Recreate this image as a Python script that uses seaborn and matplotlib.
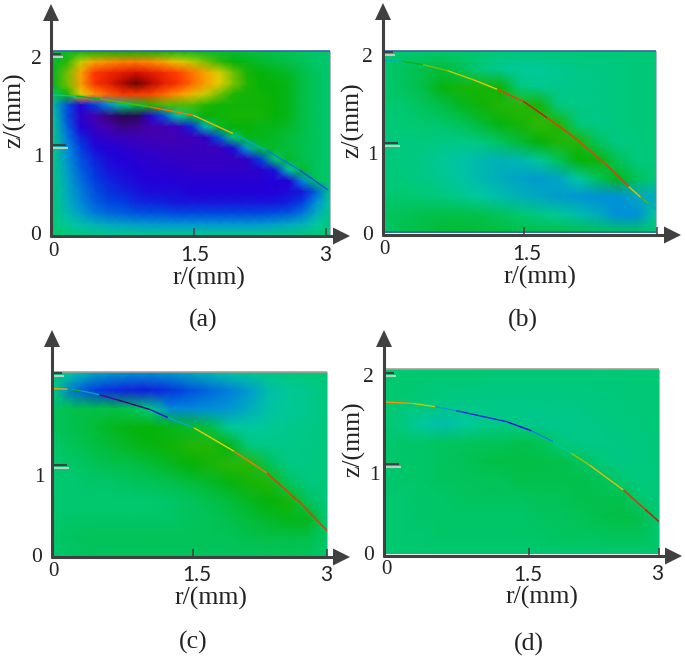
import numpy as np
import matplotlib
matplotlib.use('Agg')
import matplotlib.pyplot as plt
from matplotlib.collections import LineCollection
from matplotlib.colors import LinearSegmentedColormap
from matplotlib.patches import Polygon
import seaborn as sns

W, H = 685, 659
SERIF = 'Liberation Serif'
SANS = 'Lato'
AXIS_CLR = '#404040'

# field values, rows run from the top of the plot down to z = 0
field_a = [
    [.03, .08, .10, .12, .12, .12, .12, .12, .11, .10, .09, .08, .07, .07, .06, .05, .04, .03, .02, .01, 0],
    [.08, .16, .36, .50, .55, .58, .58, .56, .50, .42, .34, .25, .17, .12, .10, .08, .06, .05, .03, .01, 0],
    [.09, .24, .50, .70, .76, .80, .85, .80, .74, .68, .60, .50, .38, .24, .14, .12, .10, .08, .05, .02, 0],
    [.10, .24, .52, .72, .80, .90, .98, .90, .80, .72, .62, .52, .40, .26, .15, .12, .12, .10, .05, .02, 0],
    [.02, .14, .40, .55, .64, .70, .70, .68, .62, .55, .46, .36, .24, .15, .13, .13, .12, .10, .05, .02, 0],
    [-.15, -.45, -.62, -.50, -.30, -.05, .05, .15, .20, .20, .20, .15, .13, .13, .13, .13, .12, .10, .05, .02, 0],
    [-.10, -.45, -.68, -.78, -.88, -.95, -.95, -.65, -.45, -.10, .05, .12, .13, .14, .14, .14, .12, .10, .05, .02, 0],
    [-.08, -.40, -.62, -.72, -.78, -.86, -.84, -.78, -.76, -.72, -.55, -.15, .08, .12, .12, .10, .10, .08, .05, .02, 0],
    [-.06, -.35, -.55, -.65, -.70, -.72, -.74, -.76, -.76, -.76, -.74, -.68, -.45, 0, .10, .10, .08, .06, .04, .02, 0],
    [-.05, -.30, -.50, -.60, -.62, -.65, -.68, -.70, -.72, -.72, -.72, -.72, -.72, -.60, -.25, .07, .08, .06, .04, .02, 0],
    [-.05, -.28, -.45, -.55, -.60, -.62, -.65, -.66, -.68, -.70, -.70, -.70, -.70, -.70, -.68, -.50, 0, .08, .04, .02, 0],
    [-.05, -.25, -.42, -.52, -.58, -.60, -.62, -.64, -.66, -.66, -.68, -.68, -.68, -.68, -.68, -.66, -.58, -.12, .08, .02, 0],
    [-.04, -.22, -.38, -.50, -.55, -.58, -.60, -.62, -.62, -.64, -.64, -.64, -.64, -.64, -.64, -.64, -.62, -.62, -.32, .03, 0],
    [-.03, -.20, -.35, -.46, -.52, -.55, -.58, -.60, -.60, -.60, -.62, -.62, -.62, -.62, -.62, -.62, -.62, -.60, -.58, -.42, -.05],
    [-.03, -.18, -.32, -.42, -.48, -.50, -.54, -.55, -.56, -.58, -.58, -.58, -.58, -.58, -.58, -.58, -.58, -.56, -.50, -.30, -.10],
    [-.02, -.15, -.25, -.35, -.40, -.42, -.45, -.46, -.46, -.48, -.48, -.48, -.48, -.48, -.48, -.48, -.46, -.44, -.36, -.20, -.05],
    [-.02, -.08, -.14, -.18, -.22, -.24, -.26, -.27, -.28, -.28, -.28, -.28, -.28, -.28, -.28, -.27, -.25, -.22, -.18, -.10, -.02],
    [0, -.02, -.04, -.05, -.06, -.06, -.06, -.06, -.06, -.06, -.06, -.06, -.06, -.06, -.06, -.06, -.05, -.04, -.03, -.02, 0],
]
field_b = [
    [0, 0, 0, 0, 0, 0, -.01, -.01, -.01, -.01, -.01, -.01, -.01, -.01, -.01],
    [0, .02, .04, .06, .03, -.03, -.07, -.09, -.09, -.07, -.05, -.04, -.03, -.02, -.01],
    [0, .02, .05, .11, .14, .14, .13, -.02, -.06, -.06, -.05, -.04, -.03, -.02, -.01],
    [0, 0, .02, .05, .09, .13, .15, .16, .14, -.03, -.05, -.04, -.03, -.02, -.01],
    [-.01, -.01, 0, .01, .03, .07, .11, .14, .17, .15, -.02, -.05, -.03, -.02, -.01],
    [-.02, -.03, -.03, -.04, -.05, -.03, .02, .07, .12, .15, .15, .02, -.04, -.03, -.01],
    [-.02, -.03, -.05, -.08, -.12, -.16, -.18, -.16, -.08, .03, .12, .13, .03, -.03, -.02],
    [-.02, -.02, -.04, -.07, -.11, -.16, -.20, -.24, -.26, -.22, -.10, .03, .10, .03, -.02],
    [0, 0, -.01, -.03, -.06, -.10, -.14, -.18, -.22, -.26, -.28, -.30, -.30, -.22, -.20],
    [.02, .03, .04, .05, .05, .04, .02, 0, -.04, -.08, -.14, -.20, -.30, -.30, -.08],
    [0, .04, .05, .07, .07, .06, .06, .05, .05, .05, .04, .03, .02, .02, 0],
]
field_c = [
    [-.02, -.10, -.20, -.25, -.28, -.28, -.25, -.20, -.15, -.10, -.06, -.04, -.02, -.01, -.01],
    [-.05, -.38, -.50, -.54, -.56, -.56, -.52, -.46, -.40, -.34, -.26, -.14, -.08, -.06, -.03],
    [.02, .04, .05, .05, .03, -.05, -.32, -.32, -.30, -.28, -.20, -.12, -.08, -.06, -.03],
    [.02, .04, .06, .09, .11, .12, .10, .08, .05, -.08, -.10, -.08, -.06, -.05, -.03],
    [.01, .03, .05, .07, .09, .11, .13, .15, .15, .10, -.03, -.05, -.05, -.04, -.02],
    [0, .01, .03, .04, .05, .07, .09, .12, .14, .16, .16, .03, -.04, -.04, -.02],
    [0, 0, .01, .01, .02, .03, .04, .06, .08, .11, .14, .15, .02, -.03, -.02],
    [0, 0, 0, 0, 0, 0, .01, .02, .04, .06, .09, .12, .14, .02, -.03],
    [0, .01, .01, .01, .01, .01, .01, .02, .03, .04, .06, .08, .10, .10, -.01],
    [.01, .02, .03, .03, .03, .03, .03, .03, .03, .03, .04, .05, .05, .05, .01],
    [0, .01, .02, .02, .02, .02, .02, .02, .02, .02, .02, .02, .02, .02, 0],
]
field_d = [
    [0, 0, 0, 0, 0, 0, -.01, -.01, -.01, -.01, -.01, -.01, -.01, -.01, -.01],
    [0, 0, -.01, -.02, -.02, -.03, -.03, -.03, -.03, -.03, -.03, -.02, -.02, -.01, -.01],
    [0, -.02, -.03, -.04, -.05, -.05, -.05, -.05, -.05, -.04, -.04, -.03, -.02, -.02, -.01],
    [0, -.04, -.10, -.14, -.10, -.06, -.04, -.05, -.06, -.06, -.05, -.04, -.03, -.02, -.01],
    [0, .01, .01, .02, .02, .03, .03, .04, .03, -.02, -.05, -.05, -.04, -.03, -.02],
    [0, .01, .01, .02, .03, .04, .05, .05, .05, .04, .02, -.02, -.04, -.03, -.02],
    [0, .01, .01, .02, .02, .03, .03, .04, .04, .04, .04, .03, 0, -.03, -.02],
    [0, 0, .01, .01, .02, .02, .02, .02, .03, .03, .04, .04, .04, 0, -.02],
    [0, 0, .01, .01, .01, .01, .01, .01, .02, .02, .03, .04, .05, .04, -.01],
    [0, 0, 0, .01, .01, .01, .01, .01, .01, .02, .02, .02, .03, .03, 0],
    [0, 0, 0, 0, 0, 0, 0, 0, 0, 0, 0, 0, 0, 0, 0],
]

# surface curves in mm, with the field value shown along each one
curve_r_a = [0, .25, .51, 1.05, 1.52, 1.95, 2.31, 2.67, 2.98]
curve_z_a = [1.553, 1.54, 1.509, 1.42, 1.328, 1.125, .94, .72, .498]
curve_v_a = [-.1, .1, .2, .6, .45, -.2, -.35, -.45, -.55]
curve_r_b = [0, .2, .43, .7, .985, 1.25, 1.54, 1.8, 2.09, 2.46, 2.7, 2.83, 2.92, 3.0]
curve_z_b = [1.936, 1.925, 1.887, 1.82, 1.718, 1.61, 1.474, 1.29, 1.079, .759, .52, .402, .33, .26]
curve_v_b = [-.2, .1, .25, .35, .42, .7, .85, .72, .7, .72, .45, .2, -.2, -.6]
curve_r_c = [0, .15, .29, .5, .7, 1.06, 1.25, 1.54, 1.98, 2.34, 2.71, 3.0]
curve_z_c = [1.80, 1.795, 1.78, 1.735, 1.68, 1.575, 1.49, 1.378, 1.126, .892, .568, .273]
curve_v_c = [.5, .1, -.25, -.8, -.9, -.6, -.2, .4, .6, .72, .72, .75]
curve_r_d = [0, .31, .55, .78, 1.33, 1.6, 1.84, 2.04, 2.24, 2.61, 2.85, 3.0]
curve_z_d = [1.676, 1.66, 1.625, 1.58, 1.46, 1.36, 1.24, 1.11, .98, .706, .49, .357]
curve_v_d = [.55, .35, -.25, -.55, -.6, -.35, -.1, .3, .45, .75, .85, .4]

# placement of every panel, in pixels of the finished figure
panels = [
    dict(field=field_a, r=curve_r_a, z=curve_z_a, v=curve_v_a, ztop=2.04,
         box=(53, 51, 330, 235), origin=(51, 236), top=4, right=350,
         xt=(194, 326), yt=(54, 145), edges=[('top', '#3a62a8')],
         ylab=(('2', 36, 59), ('1', 38, 157), ('0', 36, 235)),
         xlab=(('0', 53, 252), ('1.5', 195, 255), ('3', 325, 255)),
         zlab=(15, 110), rlab=(209, 278), tag=('(a)', 203, 320)),
    dict(field=field_b, r=curve_r_b, z=curve_z_b, v=curve_v_b, ztop=2.04,
         box=(384, 51, 656, 233), origin=(383, 235), top=3, right=681,
         xt=(524, 657), yt=(52, 143), edges=[('top', '#3a62a8'), ('bottom', '#3a62a8')],
         ylab=(('2', 367, 58), ('1', 372, 156), ('0', 368, 235)),
         xlab=(('0', 384, 250), ('1.5', 527, 254)),
         zlab=(353, 120), rlab=(540, 277), tag=('(b)', 523, 320)),
    dict(field=field_c, r=curve_r_c, z=curve_z_c, v=curve_v_c, ztop=1.98,
         box=(54, 372, 327, 556), origin=(52, 557), top=330, right=350,
         xt=(193, 327), yt=(373, 465), edges=[('top', '#a89f98')],
         ylab=(('1', 39, 477), ('0', 37, 557)),
         xlab=(('0', 53, 571), ('1.5', 197, 575), ('3', 326, 575)),
         zlab=None, rlab=(211, 598), tag=('(c)', 193, 642)),
    dict(field=field_d, r=curve_r_d, z=curve_z_d, v=curve_v_d, ztop=2.04,
         box=(385, 369, 659, 554), origin=(384, 556), top=330, right=682,
         xt=(529, 659), yt=(373, 464), edges=[('top', '#a89f98')],
         ylab=(('2', 368, 378), ('1', 374, 476), ('0', 369, 555)),
         xlab=(('0', 386, 570), ('1.5', 528, 575), ('3', 657, 574)),
         zlab=(354, 439), rlab=(542, 597), tag=('(d)', 529, 644)),
]

cmap_stops = [
    (-1.0, '#1c0c38'), (-.8, '#4a00a8'), (-.62, '#2200d8'), (-.5, '#0040e0'),
    (-.3, '#0090d8'), (-.1, '#00c8a0'), (0, '#00c870'), (.12, '#06b208'),
    (.25, '#78c000'), (.4, '#e4d000'), (.55, '#ff9000'), (.7, '#ff3800'),
    (.85, '#d81000'), (1.0, '#5a0000'),
]
field_cmap = LinearSegmentedColormap.from_list(
    'field', [((v + 1) / 2, c) for v, c in cmap_stops], N=512)

sns.set_theme(style='white')
fig = plt.figure(figsize=(W / 100, H / 100), dpi=100, facecolor='white')

# overlay in pixel units for the hand drawn axes and the labels
deco = fig.add_axes([0, 0, 1, 1], zorder=5)
deco.set_xlim(0, W)
deco.set_ylim(H, 0)
deco.axis('off')


def put_text(s, x, y, family, size, **kw):
    deco.text(x, y, s, family=family, fontsize=size, ha='center', va='center',
              color='#222222', **kw)


def draw_panel(p):
    x0, y0, x1, y1 = p['box']
    ax = fig.add_axes([x0 / W, 1 - y1 / H, (x1 - x0) / W, (y1 - y0) / H])
    data = np.array(p['field'])
    # gouraud keeps the cell values but blends between them
    sns.heatmap(data, ax=ax, cmap=field_cmap, vmin=-1, vmax=1, cbar=False,
                xticklabels=False, yticklabels=False, shading='gouraud')
    ax.set_xlim(0, data.shape[1] - 1)
    ax.set_ylim(data.shape[0] - 1, 0)
    ax.axis('off')

    surf = ax.inset_axes([0, 0, 1, 1])
    surf.set_xlim(0, 3)
    surf.set_ylim(0, p['ztop'])
    surf.axis('off')
    surf.patch.set_alpha(0)
    pts = np.column_stack([p['r'], p['z']])
    segs = np.stack([pts[:-1], pts[1:]], axis=1)
    lc = LineCollection(segs, cmap=field_cmap, norm=plt.Normalize(-1, 1), lw=1.0)
    lc.set_array(np.array(p['v'][:-1]))
    surf.add_collection(lc)

    for side, clr in p['edges']:
        y = y0 if side == 'top' else y1 - 1
        deco.plot([x0, x1], [y, y], color=clr, lw=1.2, solid_capstyle='butt')
    deco.plot([x1, x1], [y0, y1], color='#a8bccc', lw=0.7)

    ox, oy = p['origin']
    top, right = p['top'], p['right']
    deco.plot([ox, ox], [oy + 1, top + 15], color=AXIS_CLR, lw=2.2, solid_capstyle='butt')
    deco.plot([ox - 1, right - 15], [oy, oy], color=AXIS_CLR, lw=2.2, solid_capstyle='butt')
    deco.add_patch(Polygon([(ox, top), (ox - 8, top + 17), (ox + 8, top + 17)],
                           color=AXIS_CLR, lw=0))
    deco.add_patch(Polygon([(right, oy), (right - 17, oy - 8.5), (right - 17, oy + 8.5)],
                           color=AXIS_CLR, lw=0))

    for x in p['xt']:
        deco.plot([x, x], [oy - 8, oy], color=AXIS_CLR, lw=1.1, solid_capstyle='butt')
    for y, ln in zip(p['yt'], (10, 15)):
        deco.plot([ox, ox + ln], [y, y], color=AXIS_CLR, lw=1.5, solid_capstyle='butt')
        deco.plot([ox + 2, ox + ln + 2], [y + 3, y + 3], color='#b8d0c4', lw=1.5,
                  solid_capstyle='butt')

    for s, x, y in p['ylab']:
        put_text(s, x, y, SERIF, 15.5)
    for s, x, y in p['xlab']:
        put_text(s, x, y, SERIF if s == '0' else SANS, 15)
    if p['zlab']:
        put_text('z/(mm)', p['zlab'][0], p['zlab'][1], SERIF, 18.5, rotation=90)
    put_text('r/(mm)', p['rlab'][0], p['rlab'][1], SERIF, 18.5)
    put_text(p['tag'][0], p['tag'][1], p['tag'][2], SERIF, 18.5)


for panel in panels:
    draw_panel(panel)

fig.savefig('out.png', dpi=100)
plt.close(fig)
